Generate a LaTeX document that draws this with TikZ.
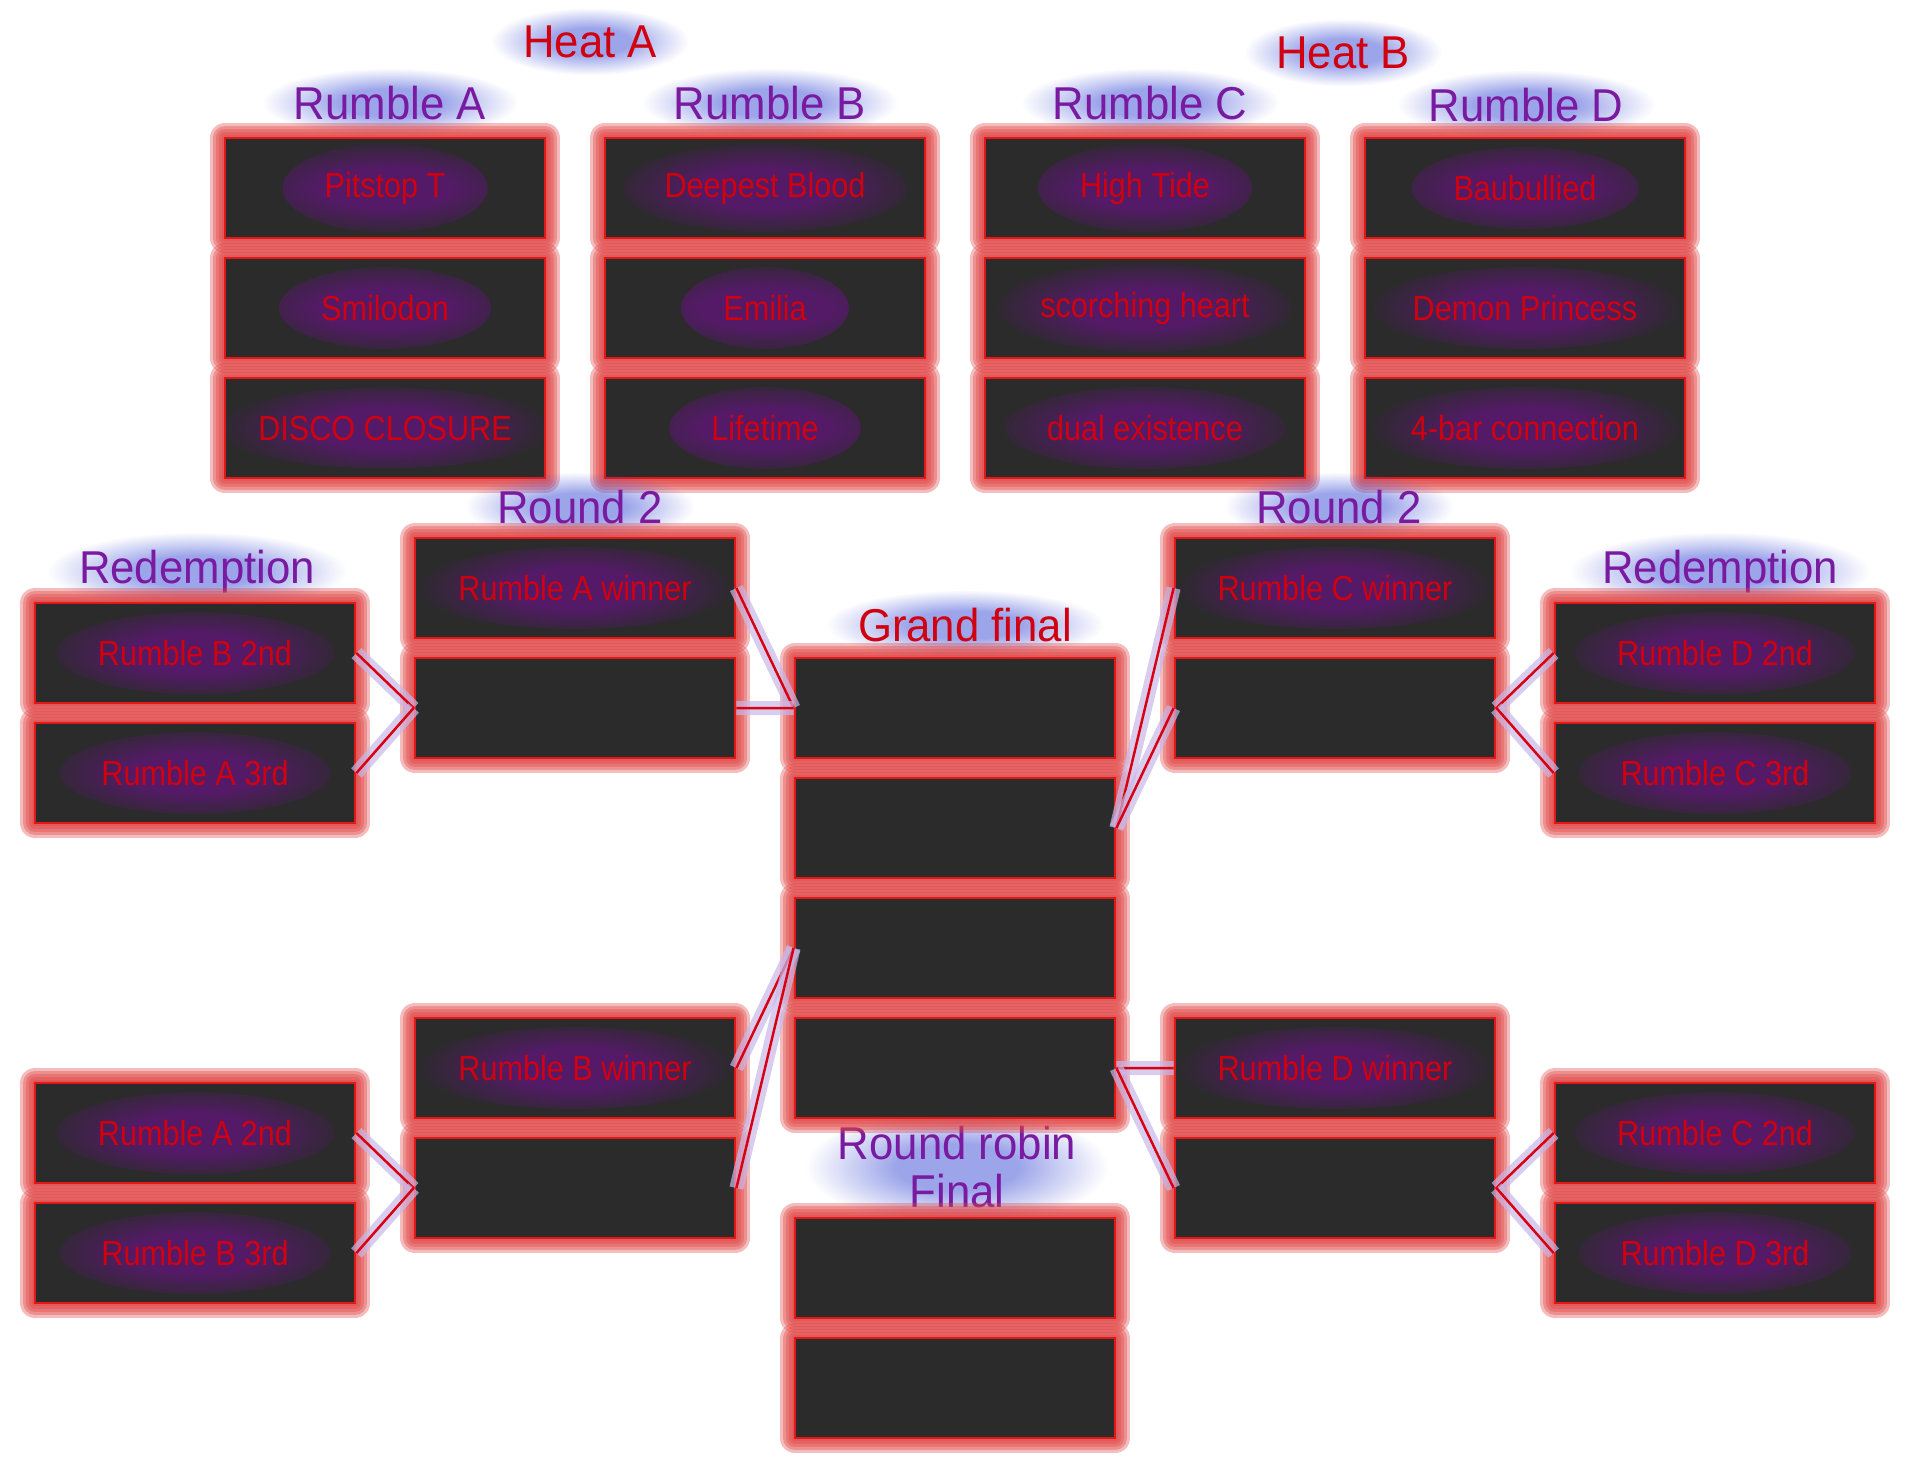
\documentclass[tikz,border=0pt]{standalone}
\usepackage{fontspec}
\usetikzlibrary{positioning,fadings}
\newfontfamily\headfont[FakeStretch=0.95]{Liberation Sans}
\newfontfamily\entryfont[FakeStretch=0.88]{Liberation Sans}
\definecolor{boxgray}{HTML}{2B2B2B}
\definecolor{edgered}{HTML}{E01818}
\definecolor{glowred}{HTML}{E04444}
\definecolor{namered}{HTML}{D00010}
\definecolor{nameglow}{HTML}{701090}
\definecolor{headpurple}{HTML}{7A1AA0}
\definecolor{glowblue}{HTML}{4A5AD8}
\definecolor{wirered}{HTML}{D80010}
\definecolor{lavender}{HTML}{C8B8E8}
\pgfdeclareradialshading{hazeshade}{\pgfpointorigin}{color(0bp)=(white); color(10bp)=(white); color(25bp)=(black); color(50bp)=(black)}
\pgfdeclarefading{haze}{\pgfuseshading{hazeshade}}
\newlength\glowwd
\newlength\glowht
\begin{document}
\begin{tikzpicture}[
        node distance=1.2cm,
        entry/.style={rectangle, fill=boxgray, draw=edgered, line width=0.8pt,
            minimum width=3.2cm, minimum height=1cm, inner sep=0pt,
            text=namered, font=\entryfont\fontsize{9.9pt}{12pt}\selectfont,
            preaction={draw=glowred, draw opacity=0.36, line width=0.30cm, line join=round},
            preaction={draw=glowred, draw opacity=0.36, line width=0.24cm, line join=round},
            preaction={draw=glowred, draw opacity=0.36, line width=0.18cm, line join=round},
            preaction={draw=glowred, draw opacity=0.36, line width=0.12cm, line join=round},
            preaction={draw=glowred, draw opacity=0.36, line width=0.06cm, line join=round},
            path picture={\ifdim\wd\pgfnodeparttextbox>0pt
                \glowwd=\wd\pgfnodeparttextbox
                \glowht=\ht\pgfnodeparttextbox
                \advance\glowht by \dp\pgfnodeparttextbox
                \fill[nameglow, fill opacity=0.6, path fading=haze]
                    (path picture bounding box.center)
                    ellipse [x radius=0.5\glowwd+12pt, y radius=0.5\glowht+8pt];
                \fi}},
        heading/.style={font=\headfont\fontsize{13.1pt}{13.6pt}\selectfont, text=headpurple,
            inner xsep=9pt, inner ysep=5pt,
            preaction={fill=glowblue, fill opacity=0.55, path fading=haze}},
        wire/.style={draw=wirered, line width=0.7pt,
            preaction={draw=lavender, draw opacity=0.7, line width=4pt}}
    ]
        \useasboundingbox (0,0) rectangle (19.09,-14.65);

        \node (heatA) [heading, text=namered, anchor=base] at (5.90,-0.57) {Heat A};
        \node (heatB) [heading, text=namered, anchor=base] at (13.43,-0.68) {Heat B};
        \node (rumA) [heading, anchor=base] at (3.90,-1.19) {Rumble A};
        \node (rumB) [heading, anchor=base] at (7.70,-1.19) {Rumble B};
        \node (rumC) [heading, anchor=base] at (11.50,-1.19) {Rumble C};
        \node (rumD) [heading, anchor=base] at (15.26,-1.21) {Rumble D};

        \node (a1) [entry] at (3.85,-1.88) {Pitstop T};
        \node (a2) [entry, below of=a1] {Smilodon};
        \node (a3) [entry, below of=a2] {DISCO CLOSURE};
        \node (b1) [entry] at (7.65,-1.88) {Deepest Blood};
        \node (b2) [entry, below of=b1] {Emilia};
        \node (b3) [entry, below of=b2] {Lifetime};
        \node (c1) [entry] at (11.45,-1.88) {High Tide};
        \node (c2) [entry, below of=c1] {scorching heart};
        \node (c3) [entry, below of=c2] {dual existence};
        \node (d1) [entry] at (15.25,-1.88) {Baubullied};
        \node (d2) [entry, below of=d1] {Demon Princess};
        \node (d3) [entry, below of=d2] {4-bar connection};

        \node (roundL) [heading, anchor=base] at (5.80,-5.23) {Round 2};
        \node (roundR) [heading, anchor=base] at (13.39,-5.23) {Round 2};
        \node (redL) [heading, anchor=base] at (1.97,-5.83) {Redemption};
        \node (redR) [heading, anchor=base] at (17.20,-5.83) {Redemption};
        \node (grand) [heading, text=namered, anchor=base] at (9.65,-6.41) {Grand final};
        \node (robin) [heading, align=center] at (9.57,-11.67) {Round robin\\Final};

        \node (redL1) [entry] at (1.95,-6.53) {Rumble B 2nd};
        \node (redL2) [entry, below of=redL1] {Rumble A 3rd};
        \node (r2L1) [entry] at (5.75,-5.88) {Rumble A winner};
        \node (r2L2) [entry, below of=r2L1] {};
        \node (gf1) [entry] at (9.55,-7.08) {};
        \node (gf2) [entry, below of=gf1] {};
        \node (gf3) [entry, below of=gf2] {};
        \node (gf4) [entry, below of=gf3] {};
        \node (r2R1) [entry] at (13.35,-5.88) {Rumble C winner};
        \node (r2R2) [entry, below of=r2R1] {};
        \node (redR1) [entry] at (17.15,-6.53) {Rumble D 2nd};
        \node (redR2) [entry, below of=redR1] {Rumble C 3rd};

        \node (redLL1) [entry] at (1.95,-11.33) {Rumble A 2nd};
        \node (redLL2) [entry, below of=redLL1] {Rumble B 3rd};
        \node (r2LL1) [entry] at (5.75,-10.68) {Rumble B winner};
        \node (r2LL2) [entry, below of=r2LL1] {};
        \node (r2LR1) [entry] at (13.35,-10.68) {Rumble D winner};
        \node (r2LR2) [entry, below of=r2LR1] {};
        \node (redLR1) [entry] at (17.15,-11.33) {Rumble C 2nd};
        \node (redLR2) [entry, below of=redLR1] {Rumble D 3rd};
        \node (rr1) [entry] at (9.55,-12.68) {};
        \node (rr2) [entry, below of=rr1] {};

        \draw[wire] (redL1.east) -- (r2L2.west);
        \draw[wire] (redL2.east) -- (r2L2.west);
        \draw[wire] (r2L1.east) -- (gf1.west);
        \draw[wire] (r2L2.east) -- (gf1.west);
        \draw[wire] (r2R1.west) -- (gf2.east);
        \draw[wire] (r2R2.west) -- (gf2.east);
        \draw[wire] (redR1.west) -- (r2R2.east);
        \draw[wire] (redR2.west) -- (r2R2.east);
        \draw[wire] (redLL1.east) -- (r2LL2.west);
        \draw[wire] (redLL2.east) -- (r2LL2.west);
        \draw[wire] (r2LL1.east) -- (gf3.west);
        \draw[wire] (r2LL2.east) -- (gf3.west);
        \draw[wire] (r2LR1.west) -- (gf4.east);
        \draw[wire] (r2LR2.west) -- (gf4.east);
        \draw[wire] (redLR1.west) -- (r2LR2.east);
        \draw[wire] (redLR2.west) -- (r2LR2.east);
    \end{tikzpicture}
\end{document}
